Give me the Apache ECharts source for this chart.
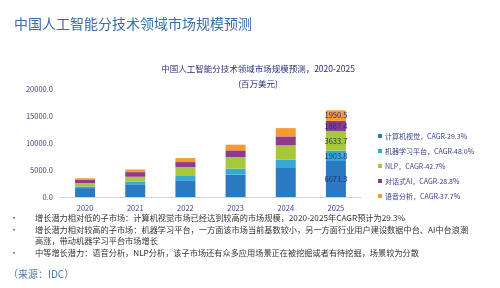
<!DOCTYPE html>
<html><head><meta charset="utf-8">
<script src="https://cdn.jsdelivr.net/npm/echarts@6/dist/echarts.min.js"></script>
<style>html,body{margin:0;padding:0;background:#fff}#c{width:500px;height:288px}</style>
</head><body><div id="c"></div>
<script>
var years = ['2020','2021','2022','2023','2024','2025'];
var seriesNames = ['计算机视觉，CAGR-29.3%','机器学习平台，CAGR-48.0%','NLP，CAGR-42.7%','对话式AI，CAGR-28.8%','语音分析，CAGR-37.7%'];
var cv     = [1650, 2350, 3090, 4140, 5370, 6671.3];
var ml     = [300, 480, 800, 1110, 1540, 1903.8];
var nlp    = [620, 920, 1660, 2160, 2650, 3633.7];
var conv   = [600, 860, 920, 1230, 1660, 1887.4];
var speech = [310, 490, 740, 1050, 1540, 1950.5];
var yTicks = [0, 5000, 10000, 15000, 20000];
var colors = ['#2b79c3','#36a9d6','#a6c83a','#8e3b8d','#f59b30'];
var F = 'Noto Sans CJK SC';
var allData = [cv, ml, nlp, conv, speech];

var chart = echarts.init(document.getElementById('c'));
var series = allData.map(function(arr, i){
  return {
    name: seriesNames[i], type: 'bar', stack: 'total', barWidth: 20,
    itemStyle: {color: colors[i]},
    data: arr.map(function(v, j){
      return j === years.length - 1 ? {value: v, label: {show: true}} : v;
    }),
    label: {show: false, position: 'inside', color: '#25306b', fontSize: 7.5, fontFamily: F,
      formatter: function(p){ return Number(p.value).toFixed(1); }}
  };
});
chart.setOption({
  animation: false,
  textStyle: {fontFamily: F},
  title: [
    {text: '中国人工智能分技术领域市场规模预测', left: 9, top: 12,
      textStyle: {fontSize: 14, fontWeight: 'normal', color: '#3a6ea8', fontFamily: F}},
    {text: '中国人工智能分技术领域市场规模预测，2020-2025', left: 253, top: 60, textAlign: 'center',
      textStyle: {fontSize: 8.5, fontWeight: 'normal', color: '#2b2f7a', fontFamily: F}},
    {text: '(百万美元)', left: 253, top: 75, textAlign: 'center',
      textStyle: {fontSize: 8.5, fontWeight: 'normal', color: '#2b2f7a', fontFamily: F}}
  ],
  legend: {
    orient: 'vertical', left: 373, top: 127, itemWidth: 4, itemHeight: 4, itemGap: 7,
    icon: 'rect', data: seriesNames,
    textStyle: {fontSize: 7, color: '#3b3f8c', fontFamily: F, lineHeight: 8, padding: [0,0,0,-2]}
  },
  grid: {left: 60, right: 139, top: 89, bottom: 91},
  xAxis: {
    type: 'category', data: years,
    axisLine: {lineStyle: {color: '#d0d0d8'}}, axisTick: {show: false},
    axisLabel: {fontSize: 7.5, color: '#3b3f8c', margin: 7, fontFamily: F}
  },
  yAxis: {
    type: 'value', min: yTicks[0], max: yTicks[yTicks.length-1], interval: 5000,
    splitLine: {show: false}, axisLine: {show: false}, axisTick: {show: false},
    axisLabel: {fontSize: 7.5, color: '#3b3f8c', margin: 7, fontFamily: F,
      formatter: function(v){ return v.toFixed(1); }}
  },
  graphic: [
    {type: 'text', left: 10, top: 214, style: {text: '•', fontSize: 8, fill: '#333', fontFamily: F}},
    {type: 'text', left: 35, top: 214, style: {text: '增长潜力相对低的子市场：计算机视觉市场已经达到较高的市场规模，2020-2025年CAGR预计为29.3%', fontSize: 8.2, fill: '#333', fontFamily: F}},
    {type: 'text', left: 10, top: 226, style: {text: '•', fontSize: 8, fill: '#333', fontFamily: F}},
    {type: 'text', left: 35, top: 226, style: {text: '增长潜力相对较高的子市场：机器学习平台，一方面该市场当前基数较小，另一方面行业用户建设数据中台、AI中台浪潮', fontSize: 8.2, fill: '#333', fontFamily: F}},
    {type: 'text', left: 35, top: 237, style: {text: '高涨，带动机器学习平台市场增长', fontSize: 8.2, fill: '#333', fontFamily: F}},
    {type: 'text', left: 10, top: 249, style: {text: '•', fontSize: 8, fill: '#333', fontFamily: F}},
    {type: 'text', left: 35, top: 249, style: {text: '中等增长潜力：语音分析，NLP分析，该子市场还有众多应用场景正在被挖掘或者有待挖掘，场景较为分散', fontSize: 8.2, fill: '#333', fontFamily: F}},
    {type: 'text', left: 8, top: 269, style: {text: '（来源：IDC）', fontSize: 10, fill: '#4a78b4', fontFamily: F}}
  ],
  series: series
});
</script></body></html>
